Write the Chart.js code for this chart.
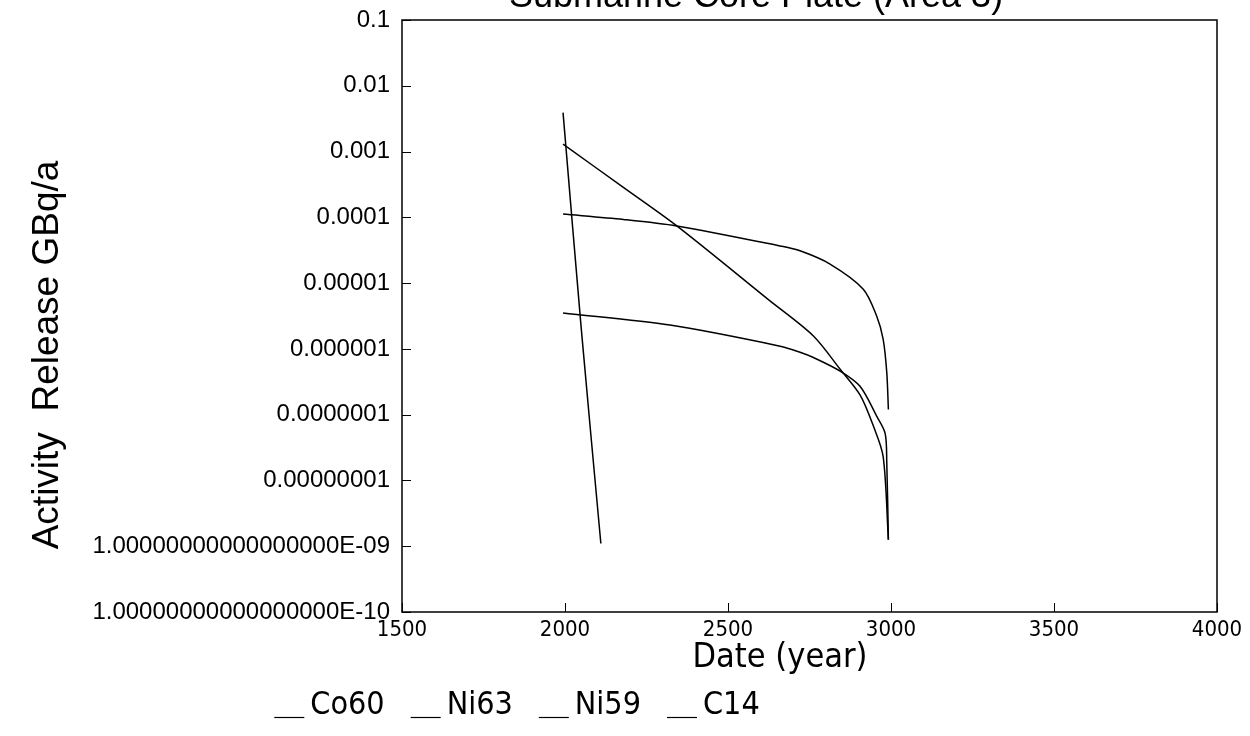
<!DOCTYPE html>
<html>
<head>
<meta charset="utf-8">
<script src="https://cdn.jsdelivr.net/npm/chart.js@4.4.0/dist/chart.umd.min.js"></script>
<style>
  html, body { margin: 0; padding: 0; background: #fff; }
  #caixa { width: 1250px; height: 736px; position: relative; }
</style>
</head>
<body>
<div id="caixa"><canvas id="grafico"></canvas></div>
<script>
// --- DADOS ---
const TITULO = 'Submarine Core Plate (Area 3)';
const TITULO_Y = 'Activity  Release GBq/a';
const TITULO_X = 'Date (year)';
const NOMES = ['Co60', 'Ni63', 'Ni59', 'C14'];

const Y_TICKS = [1e-10, 1e-9, 1e-8, 1e-7, 1e-6, 1e-5, 1e-4, 1e-3, 1e-2, 1e-1];
const Y_LABELS = ['1.00000000000000000E-10', '1.00000000000000000E-09', '0.00000001', '0.0000001',
  '0.000001', '0.00001', '0.0001', '0.001', '0.01', '0.1'];
const X_MIN = 1500, X_MAX = 4000, X_PASSO = 500;

const ANOS_CO60 = [1994, 2050, 2110];
const VAL_CO60  = [3.9e-3, 2.0e-6, 1.1e-9];

const ANOS_NI63 = [1994, 2179, 2343, 2624, 2762, 2844, 2905, 2946, 2976, 2992];
const VAL_NI63  = [1.3e-3, 2.85e-4, 7.4e-5, 5.6e-6, 1.57e-6, 4.9e-7, 2.0e-7, 6.7e-8, 2.3e-8, 1.26e-9];

const ANOS_NI59 = [1994, 2179, 2343, 2660, 2721, 2813, 2915, 2956, 2976, 2987, 2992];
const VAL_NI59  = [1.12e-4, 9.3e-5, 7.4e-5, 3.67e-5, 3.1e-5, 1.95e-5, 8.1e-6, 3.16e-6, 1.4e-6, 4.4e-7, 1.2e-7];

const ANOS_C14 = [1994, 2322, 2660, 2721, 2762, 2844, 2905, 2956, 2982, 2987, 2992];
const VAL_C14  = [3.5e-6, 2.3e-6, 1.1e-6, 8.9e-7, 7.4e-7, 4.6e-7, 2.7e-7, 9.5e-8, 5.2e-8, 1.9e-8, 1.26e-9];

const SERIES = [
  [ANOS_CO60, VAL_CO60],
  [ANOS_NI63, VAL_NI63],
  [ANOS_NI59, VAL_NI59],
  [ANOS_C14, VAL_C14]
];

const FONTE = 'Arial, "Liberation Sans", Helvetica, sans-serif';
const FONTE_ESTREITA = '"Liberation Sans Narrow", "Arial Narrow", "DejaVu Sans Condensed", Arial, sans-serif';
const LEGENDA_PAD = 26;
const LEGENDA_CENTRO = 517;

// marcador da legenda: traço curto rente à linha de base do texto
function criarMarcador() {
  const c = document.createElement('canvas');
  c.width = 60; c.height = 30;
  const g = c.getContext('2d');
  g.strokeStyle = '#000';
  g.lineWidth = 1.2;
  g.beginPath();
  g.moveTo(20, 26.5);
  g.lineTo(50, 26.5);
  g.stroke();
  return c;
}

// moldura, ticks para dentro e títulos soltos
const molduraPlugin = {
  id: 'moldura',
  afterLayout(chart) {
    // desloca a legenda para a esquerda, como no original
    const lg = chart.legend;
    if (!lg || !lg.lineWidths) return;
    const conteudo = lg.lineWidths[0] - LEGENDA_PAD;
    const inicio = (lg.left + LEGENDA_PAD + lg.right - lg.lineWidths[0]) / 2;
    const centro = inicio + conteudo / 2;
    lg.left += 2 * (LEGENDA_CENTRO - centro);
  },
  afterDraw(chart) {
    const { ctx, chartArea: a, scales } = chart;
    ctx.save();
    ctx.strokeStyle = '#000';
    ctx.lineWidth = 1.5;
    ctx.strokeRect(a.left, a.top, a.right - a.left, a.bottom - a.top);

    ctx.lineWidth = 1;
    ctx.beginPath();
    scales.y.ticks.forEach(t => {
      const py = Math.round(scales.y.getPixelForValue(t.value)) + 0.5;
      ctx.moveTo(a.left, py);
      ctx.lineTo(a.left + 9, py);
    });
    scales.x.ticks.forEach(t => {
      const px = Math.round(scales.x.getPixelForValue(t.value)) + 0.5;
      ctx.moveTo(px, a.bottom);
      ctx.lineTo(px, a.bottom - 9);
    });
    ctx.stroke();

    ctx.fillStyle = '#000';
    ctx.textAlign = 'center';
    ctx.textBaseline = 'alphabetic';
    ctx.font = '36px ' + FONTE;
    ctx.fillText(TITULO, 756, 7);

    ctx.font = '34px ' + FONTE_ESTREITA;
    ctx.fillText(TITULO_X, 780, 667);

    ctx.translate(58, 355);
    ctx.rotate(-Math.PI / 2);
    ctx.font = '37px ' + FONTE;
    ctx.fillText(TITULO_Y, 0, 0);
    ctx.restore();
  }
};

document.addEventListener('DOMContentLoaded', iniciarGrafico);

function iniciarGrafico() {
  const canvas = document.getElementById('grafico');
  canvas.width = 1250;
  canvas.height = 736;

  const datasets = SERIES.map((s, i) => ({
    label: NOMES[i],
    data: s[0].map((ano, j) => ({ x: ano, y: s[1][j] })),
    borderColor: '#000',
    backgroundColor: '#000',
    borderWidth: 1.5,
    pointRadius: 0,
    tension: 0.3,
    fill: false
  }));

  new Chart(canvas.getContext('2d'), {
    type: 'line',
    data: { datasets },
    plugins: [molduraPlugin],
    options: {
      responsive: false,
      animation: false,
      layout: { padding: { top: 20, right: 33, bottom: 4, left: 0 } },
      plugins: {
        title: { display: false },
        tooltip: { enabled: false },
        legend: {
          position: 'bottom',
          labels: {
            usePointStyle: true,
            pointStyle: criarMarcador(),
            pointStyleWidth: 20,
            padding: LEGENDA_PAD,
            color: '#000',
            font: { family: FONTE_ESTREITA, size: 32 }
          }
        }
      },
      scales: {
        x: {
          type: 'linear',
          min: X_MIN,
          max: X_MAX,
          grid: { display: false, drawTicks: false },
          border: { display: false },
          afterFit: scale => { scale.height = 52; },
          ticks: {
            stepSize: X_PASSO,
            padding: 7,
            color: '#000',
            maxRotation: 0,
            font: { family: FONTE_ESTREITA, size: 22, lineHeight: 1 },
            callback: valor => String(valor)
          }
        },
        y: {
          type: 'logarithmic',
          min: Y_TICKS[0],
          max: Y_TICKS[Y_TICKS.length - 1],
          grid: { display: false, drawTicks: false },
          border: { display: false },
          afterBuildTicks: scale => {
            scale.ticks = Y_TICKS.map(v => ({ value: v }));
          },
          afterFit: scale => {
            scale.width = 402;
            scale.paddingTop = 0;
            scale.paddingBottom = 0;
          },
          ticks: {
            padding: 12,
            color: '#000',
            autoSkip: false,
            font: { family: FONTE, size: 24 },
            callback: valor => Y_LABELS[Y_TICKS.indexOf(valor)]
          }
        }
      }
    }
  });
}
</script>
</body>
</html>
